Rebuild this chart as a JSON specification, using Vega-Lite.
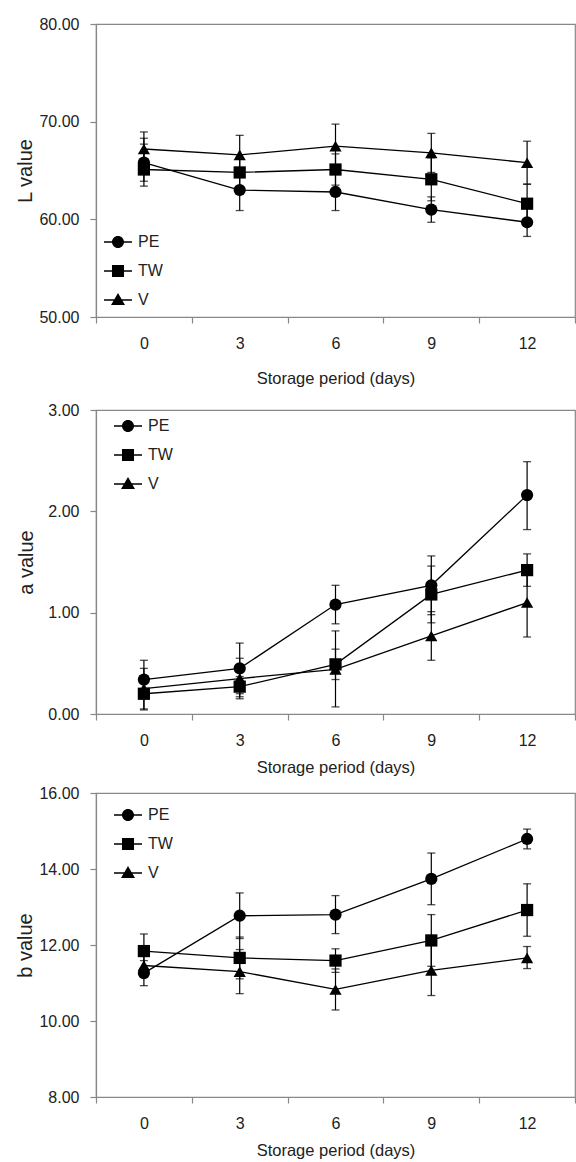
{
  "$schema": "https://vega.github.io/schema/vega-lite/v6.json",
  "padding": {"left": 14, "top": 15, "right": 0, "bottom": 0},
  "background": "white",
  "datasets": {
    "L": [
      {"day": 0, "series": "PE", "value": 65.8, "lo": 63.9, "hi": 67.7},
      {"day": 3, "series": "PE", "value": 63.0, "lo": 60.9, "hi": 65.1},
      {"day": 6, "series": "PE", "value": 62.8, "lo": 60.9, "hi": 64.7},
      {"day": 9, "series": "PE", "value": 61.0, "lo": 59.7, "hi": 62.3},
      {"day": 12, "series": "PE", "value": 59.7, "lo": 58.25, "hi": 61.15},
      {"day": 0, "series": "TW", "value": 65.1, "lo": 63.4, "hi": 68.3},
      {"day": 3, "series": "TW", "value": 64.8, "lo": 63.3, "hi": 66.3},
      {"day": 6, "series": "TW", "value": 65.1, "lo": 63.5, "hi": 66.7},
      {"day": 9, "series": "TW", "value": 64.1, "lo": 61.9, "hi": 66.3},
      {"day": 12, "series": "TW", "value": 61.6, "lo": 59.6, "hi": 63.6},
      {"day": 0, "series": "V", "value": 67.2, "lo": 65.4, "hi": 68.95},
      {"day": 3, "series": "V", "value": 66.6, "lo": 64.6, "hi": 68.6},
      {"day": 6, "series": "V", "value": 67.5, "lo": 65.2, "hi": 69.75},
      {"day": 9, "series": "V", "value": 66.8, "lo": 64.8, "hi": 68.8},
      {"day": 12, "series": "V", "value": 65.8, "lo": 63.6, "hi": 68.0}
    ],
    "a": [
      {"day": 0, "series": "PE", "value": 0.34, "lo": 0.15, "hi": 0.53},
      {"day": 3, "series": "PE", "value": 0.45, "lo": 0.20, "hi": 0.70},
      {"day": 6, "series": "PE", "value": 1.08, "lo": 0.89, "hi": 1.27},
      {"day": 9, "series": "PE", "value": 1.27, "lo": 0.98, "hi": 1.56},
      {"day": 12, "series": "PE", "value": 2.16, "lo": 1.82, "hi": 2.49},
      {"day": 0, "series": "TW", "value": 0.20, "lo": 0.05, "hi": 0.35},
      {"day": 3, "series": "TW", "value": 0.27, "lo": 0.17, "hi": 0.37},
      {"day": 6, "series": "TW", "value": 0.49, "lo": 0.34, "hi": 0.64},
      {"day": 9, "series": "TW", "value": 1.18, "lo": 0.90, "hi": 1.46},
      {"day": 12, "series": "TW", "value": 1.42, "lo": 1.26, "hi": 1.58},
      {"day": 0, "series": "V", "value": 0.25, "lo": 0.04, "hi": 0.45},
      {"day": 3, "series": "V", "value": 0.35, "lo": 0.15, "hi": 0.55},
      {"day": 6, "series": "V", "value": 0.44, "lo": 0.07, "hi": 0.82},
      {"day": 9, "series": "V", "value": 0.77, "lo": 0.53, "hi": 1.01},
      {"day": 12, "series": "V", "value": 1.10, "lo": 0.76, "hi": 1.44}
    ],
    "b": [
      {"day": 0, "series": "PE", "value": 11.26, "lo": 10.93, "hi": 11.59},
      {"day": 3, "series": "PE", "value": 12.77, "lo": 12.17, "hi": 13.37},
      {"day": 6, "series": "PE", "value": 12.80, "lo": 12.30, "hi": 13.30},
      {"day": 9, "series": "PE", "value": 13.74, "lo": 13.06, "hi": 14.42},
      {"day": 12, "series": "PE", "value": 14.79, "lo": 14.53, "hi": 15.05},
      {"day": 0, "series": "TW", "value": 11.84, "lo": 11.39, "hi": 12.29},
      {"day": 3, "series": "TW", "value": 11.66, "lo": 11.11, "hi": 12.21},
      {"day": 6, "series": "TW", "value": 11.59, "lo": 11.28, "hi": 11.90},
      {"day": 9, "series": "TW", "value": 12.12, "lo": 11.44, "hi": 12.80},
      {"day": 12, "series": "TW", "value": 12.92, "lo": 12.23, "hi": 13.61},
      {"day": 0, "series": "V", "value": 11.46, "lo": 11.21, "hi": 11.71},
      {"day": 3, "series": "V", "value": 11.30, "lo": 10.72, "hi": 11.88},
      {"day": 6, "series": "V", "value": 10.83, "lo": 10.29, "hi": 11.37},
      {"day": 9, "series": "V", "value": 11.33, "lo": 10.67, "hi": 11.99},
      {"day": 12, "series": "V", "value": 11.66, "lo": 11.38, "hi": 11.96}
    ]
  },
  "vconcat": [
    {
      "vconcat": [
        {
          "width": 479,
          "height": 293,
          "data": {"name": "L"},
          "encoding": {
            "x": {"field": "day", "type": "ordinal", "title": "Storage period (days)", "scale": {"type": "band", "paddingInner": 0, "paddingOuter": 0}, "axis": {"titlePadding": 19}},
            "y": {"field": "value", "type": "quantitative", "title": "L value", "scale": {"domain": [50, 80]}, "axis": {"values": [50, 60, 70, 80], "format": ".2f", "titleX": -71, "titleY": 146.5}}
          },
          "layer": [
            {"mark": {"type": "rule", "color": "black", "strokeWidth": 1.2}, "encoding": {"y": {"field": "lo", "type": "quantitative", "title": "L value"}, "y2": {"field": "hi"}}},
            {"mark": {"type": "tick", "color": "black", "size": 8, "thickness": 1.3, "orient": "horizontal"}, "encoding": {"y": {"field": "lo", "type": "quantitative", "title": "L value"}}},
            {"mark": {"type": "tick", "color": "black", "size": 8, "thickness": 1.3, "orient": "horizontal"}, "encoding": {"y": {"field": "hi", "type": "quantitative", "title": "L value"}}},
            {"mark": {"type": "line", "color": "black", "strokeWidth": 1.3}, "encoding": {"detail": {"field": "series"}}},
            {"mark": {"type": "point", "filled": true, "opacity": 1, "color": "black", "size": 150}, "encoding": {
              "shape": {"field": "series", "type": "nominal", "scale": {"domain": ["PE", "TW", "V"], "range": ["circle", "square", "triangle-up"]}, "legend": null}}},
            {"transform": [{"filter": "false"}],
             "mark": {"type": "point", "filled": true, "opacity": 1, "color": "black"},
             "encoding": {"shape": {"field": "series", "type": "nominal",
               "scale": {"domain": ["PE", "TW", "V"], "range": ["M-1,-0.05L1,-0.05L1,0.05L-1,0.05ZM0.43,0A0.43,0.43,0,1,1,-0.43,0A0.43,0.43,0,1,1,0.43,0Z", "M-1,-0.05L1,-0.05L1,0.05L-1,0.05ZM-0.43,-0.43L0.43,-0.43L0.43,0.43L-0.43,0.43Z", "M-1,-0.05L1,-0.05L1,0.05L-1,0.05ZM0,-0.5L0.5,0.36L-0.5,0.36Z"]},
               "legend": {"orient": "none", "legendX": 7, "legendY": 203, "title": null, "symbolSize": 784}}}}
          ],
          "resolve": {"scale": {"shape": "independent"}, "legend": {"shape": "independent"}}
        },
        {
          "width": 479,
          "height": 304,
          "data": {"name": "a"},
          "encoding": {
            "x": {"field": "day", "type": "ordinal", "title": "Storage period (days)", "scale": {"type": "band", "paddingInner": 0, "paddingOuter": 0}, "axis": {"titlePadding": 11}},
            "y": {"field": "value", "type": "quantitative", "title": "a value", "scale": {"domain": [0, 3]}, "axis": {"values": [0, 1, 2, 3], "format": ".2f", "titleX": -70, "titleY": 152}}
          },
          "layer": [
            {"mark": {"type": "rule", "color": "black", "strokeWidth": 1.2}, "encoding": {"y": {"field": "lo", "type": "quantitative", "title": "a value"}, "y2": {"field": "hi"}}},
            {"mark": {"type": "tick", "color": "black", "size": 8, "thickness": 1.3, "orient": "horizontal"}, "encoding": {"y": {"field": "lo", "type": "quantitative", "title": "a value"}}},
            {"mark": {"type": "tick", "color": "black", "size": 8, "thickness": 1.3, "orient": "horizontal"}, "encoding": {"y": {"field": "hi", "type": "quantitative", "title": "a value"}}},
            {"mark": {"type": "line", "color": "black", "strokeWidth": 1.3}, "encoding": {"detail": {"field": "series"}}},
            {"mark": {"type": "point", "filled": true, "opacity": 1, "color": "black", "size": 150}, "encoding": {
              "shape": {"field": "series", "type": "nominal", "scale": {"domain": ["PE", "TW", "V"], "range": ["circle", "square", "triangle-up"]}, "legend": null}}},
            {"transform": [{"filter": "false"}],
             "mark": {"type": "point", "filled": true, "opacity": 1, "color": "black"},
             "encoding": {"shape": {"field": "series", "type": "nominal",
               "scale": {"domain": ["PE", "TW", "V"], "range": ["M-1,-0.05L1,-0.05L1,0.05L-1,0.05ZM0.43,0A0.43,0.43,0,1,1,-0.43,0A0.43,0.43,0,1,1,0.43,0Z", "M-1,-0.05L1,-0.05L1,0.05L-1,0.05ZM-0.43,-0.43L0.43,-0.43L0.43,0.43L-0.43,0.43Z", "M-1,-0.05L1,-0.05L1,0.05L-1,0.05ZM0,-0.5L0.5,0.36L-0.5,0.36Z"]},
               "legend": {"orient": "none", "legendX": 17, "legendY": 1, "title": null, "symbolSize": 784}}}}
          ],
          "resolve": {"scale": {"shape": "independent"}, "legend": {"shape": "independent"}}
        }
      ],
      "spacing": 13,
      "resolve": {"scale": {"x": "independent", "y": "independent", "shape": "independent"}, "legend": {"shape": "independent"}}
    },
    {
      "width": 479,
      "height": 304,
      "data": {"name": "b"},
      "encoding": {
        "x": {"field": "day", "type": "ordinal", "title": "Storage period (days)", "scale": {"type": "band", "paddingInner": 0, "paddingOuter": 0}, "axis": {"titlePadding": 11}},
        "y": {"field": "value", "type": "quantitative", "title": "b value", "scale": {"domain": [8, 16]}, "axis": {"values": [8, 10, 12, 14, 16], "format": ".2f", "titleX": -71, "titleY": 152}}
      },
      "layer": [
        {"mark": {"type": "rule", "color": "black", "strokeWidth": 1.2}, "encoding": {"y": {"field": "lo", "type": "quantitative", "title": "b value"}, "y2": {"field": "hi"}}},
        {"mark": {"type": "tick", "color": "black", "size": 8, "thickness": 1.3, "orient": "horizontal"}, "encoding": {"y": {"field": "lo", "type": "quantitative", "title": "b value"}}},
        {"mark": {"type": "tick", "color": "black", "size": 8, "thickness": 1.3, "orient": "horizontal"}, "encoding": {"y": {"field": "hi", "type": "quantitative", "title": "b value"}}},
        {"mark": {"type": "line", "color": "black", "strokeWidth": 1.3}, "encoding": {"detail": {"field": "series"}}},
        {"mark": {"type": "point", "filled": true, "opacity": 1, "color": "black", "size": 150}, "encoding": {
          "shape": {"field": "series", "type": "nominal", "scale": {"domain": ["PE", "TW", "V"], "range": ["circle", "square", "triangle-up"]}, "legend": null}}},
        {"transform": [{"filter": "false"}],
         "mark": {"type": "point", "filled": true, "opacity": 1, "color": "black"},
         "encoding": {"shape": {"field": "series", "type": "nominal",
           "scale": {"domain": ["PE", "TW", "V"], "range": ["M-1,-0.05L1,-0.05L1,0.05L-1,0.05ZM0.43,0A0.43,0.43,0,1,1,-0.43,0A0.43,0.43,0,1,1,0.43,0Z", "M-1,-0.05L1,-0.05L1,0.05L-1,0.05ZM-0.43,-0.43L0.43,-0.43L0.43,0.43L-0.43,0.43Z", "M-1,-0.05L1,-0.05L1,0.05L-1,0.05ZM0,-0.5L0.5,0.36L-0.5,0.36Z"]},
           "legend": {"orient": "none", "legendX": 17, "legendY": 7, "title": null, "symbolSize": 784}}}}
      ],
      "resolve": {"scale": {"shape": "independent"}, "legend": {"shape": "independent"}}
    }
  ],
  "spacing": 7,
  "resolve": {"scale": {"x": "independent", "y": "independent", "shape": "independent"}, "legend": {"shape": "independent"}},
  "config": {
    "view": {"stroke": "#888", "strokeWidth": 1.2},
    "axis": {"domainColor": "#888", "domainWidth": 1.2, "tickColor": "#888", "tickWidth": 1.2, "tickSize": 6, "grid": false,
      "labelFont": "Liberation Sans", "labelFontSize": 16, "labelColor": "#222",
      "titleFont": "Liberation Sans", "titleFontWeight": "normal", "titleColor": "#222"},
    "axisX": {"labelAngle": 0, "tickBand": "extent", "labelPadding": 12, "titleFontSize": 16.5},
    "axisY": {"labelPadding": 11, "titleFontSize": 20, "titleBaseline": "middle"},
    "legend": {"padding": 0, "rowPadding": 4, "labelOffset": 5, "labelFont": "Liberation Sans", "labelFontSize": 16, "labelColor": "#222"}
  }
}
